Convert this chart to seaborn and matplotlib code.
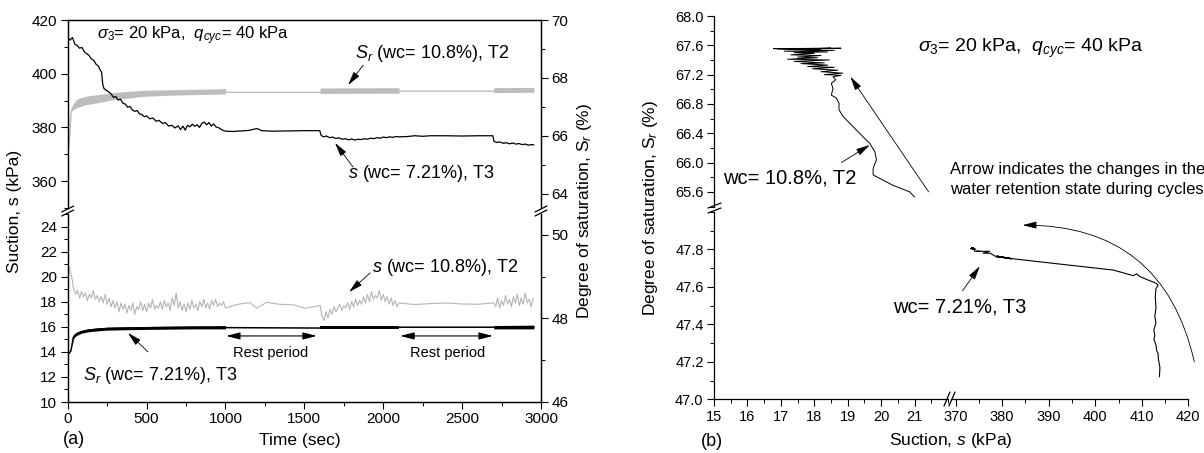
import numpy as np
import pandas as pd
import matplotlib
matplotlib.use("Agg")
import matplotlib.pyplot as plt
import seaborn as sns
from matplotlib.ticker import MultipleLocator, FormatStrFormatter
from matplotlib.lines import Line2D

# ---------------- data : panel (a) ----------------
# T3 suction (kPa), black, upper-left scale
t3s_t = [0, 15, 30, 45, 60, 75, 90, 105, 120, 135, 150, 165, 180, 195, 205, 215, 222, 230, 245, 260,
         275, 290, 305, 320, 335, 350, 365, 380, 395, 410, 425, 440, 455, 470, 485, 500, 520, 540, 560, 580,
         600, 620, 640, 660, 680, 700, 715, 730, 745, 760, 775, 790, 805, 820, 835, 850, 865, 880, 895, 910,
         925, 940, 960, 980, 1000,
         1050, 1100, 1150, 1200, 1230, 1300, 1400, 1500, 1598,
         1605, 1620, 1640, 1660, 1680, 1700, 1720, 1740, 1760, 1780, 1800, 1820, 1840, 1860, 1880, 1900,
         1920, 1940, 1960, 1980, 2000, 2020, 2040, 2060, 2080, 2100,
         2150, 2200, 2250, 2300, 2400, 2500, 2600, 2695,
         2702, 2720, 2740, 2760, 2780, 2800, 2820, 2840, 2860, 2880, 2900, 2920, 2940, 2955]
t3s_v = [413.5, 412.5, 413.5, 411.0, 410.5, 409.5, 409.8, 408.2, 407.5, 406.8, 405.5, 405.0, 403.5, 402.8, 401.5, 400.5, 396.0, 394.5, 393.8, 393.2,
         392.5, 391.2, 391.5, 390.2, 390.5, 389.0, 388.7, 387.5, 387.8, 386.5, 386.0, 386.3, 385.0, 384.8, 384.0, 384.3, 383.2, 383.5, 382.3, 382.6,
         381.5, 381.8, 380.5, 380.8, 379.8, 380.6, 379.2, 380.5, 379.0, 380.8, 380.2, 381.2, 380.4, 381.0, 380.0, 381.5, 382.0, 381.0, 381.8, 380.5,
         381.3, 380.2, 379.8, 379.0, 378.6,
         378.5, 378.7, 378.9, 379.6, 378.8, 378.6, 378.7, 378.8, 378.8,
         377.2, 376.5, 376.8, 376.2, 376.4, 375.9, 376.1, 375.6, 375.8, 375.4, 375.7, 375.3, 375.6, 375.5, 375.8, 375.6,
         376.0, 375.8, 376.2, 376.0, 376.4, 376.2, 376.5, 376.3, 376.6, 376.5,
         376.6, 376.9, 376.7, 376.9, 376.9, 376.8, 376.9, 376.9,
         374.8, 374.4, 374.6, 374.1, 374.3, 373.9, 374.2, 373.8, 374.0, 373.6, 373.8, 373.4, 373.6, 373.5]

# T2 degree of saturation (%), grey band, upper-right scale
sr2_t = [0, 8, 15, 22, 30, 45, 60, 90, 120, 160, 220, 270, 350, 480, 650, 880, 1000, 1600, 2100, 2700, 2955]
sr2_mid = [65.4, 65.7, 66.2, 66.82, 66.96, 67.05, 67.12, 67.18, 67.22, 67.26, 67.3, 67.35, 67.4, 67.46, 67.5, 67.52, 67.5, 67.5, 67.54, 67.54, 67.58]
sr2_c1_t = [22, 30, 45, 60, 90, 120, 160, 220, 270, 350, 480, 650, 880, 1000]
sr2_c1_hi = [66.85, 67.05, 67.18, 67.27, 67.33, 67.37, 67.40, 67.44, 67.48, 67.52, 67.57, 67.59, 67.61, 67.63]
sr2_c1_lo = [66.8, 66.88, 66.93, 66.97, 67.03, 67.08, 67.11, 67.17, 67.23, 67.28, 67.36, 67.40, 67.43, 67.44]
sr2_c2_t, sr2_c2_hi, sr2_c2_lo = [1600, 2100], [67.65, 67.66], [67.46, 67.47]
sr2_c3_t, sr2_c3_hi, sr2_c3_lo = [2700, 2955], [67.66, 67.67], [67.49, 67.50]

# T2 suction (kPa), grey noisy line, lower-left scale
t2s_t1 = np.arange(0, 1000.1, 12.5)
t2s_v1 = [21.1, 20.6, 20.0, 19.0, 18.6, 18.9, 18.3, 18.8, 18.4, 18.7, 18.1, 18.6, 18.3, 18.9, 18.2, 18.5, 18.0, 18.4, 17.9, 18.6,
          17.8, 18.3, 17.6, 18.1, 17.5, 18.0, 17.2, 17.9, 17.4, 17.8,
          17.1, 17.7, 17.3, 17.9, 17.0, 17.6, 17.4, 18.0, 17.3, 17.8,
          17.2, 17.9, 17.5, 18.2, 17.4, 17.7, 17.5, 18.0, 17.4, 18.1,
          17.6, 17.9, 17.3, 18.3, 17.7, 18.7, 17.5, 18.0, 17.3, 17.8,
          17.2, 17.9, 17.4, 18.1, 17.5, 17.8, 17.3, 18.0, 17.6, 18.2,
          17.5, 17.9, 17.4, 18.1, 17.7, 18.2, 17.6, 17.9, 17.7, 18.0, 17.5]
t2s_tr1 = [1080, 1156, 1199, 1262, 1340, 1431, 1505, 1590, 1600]
t2s_vr1 = [17.8, 17.93, 17.48, 17.96, 17.8, 17.75, 17.48, 17.67, 17.7]
t2s_t2 = np.arange(1612.5, 2100.1, 12.5)
t2s_v2 = [16.8, 16.5, 17.2, 16.7, 17.4, 17.0, 17.6, 17.2, 17.5, 17.8,
          17.3, 17.7, 17.5, 17.9, 17.4, 18.0, 17.6, 18.2, 17.7, 18.1,
          17.8, 18.4, 17.9, 18.6, 18.0, 18.8, 18.2, 18.5, 18.3, 18.9,
          18.1, 18.6, 18.0, 18.4, 17.8, 18.3, 17.7, 18.1, 17.6, 17.9]
t2s_tr2 = [2200, 2300, 2400, 2500, 2600, 2700]
t2s_vr2 = [17.78, 17.85, 17.9, 17.82, 17.8, 17.9]
t2s_t3 = np.arange(2712.5, 2950.1, 12.5)
t2s_v3 = [17.6, 18.3, 17.5, 18.1, 17.7, 18.5, 17.8, 18.2, 17.6, 18.4,
          17.9, 18.6, 17.7, 18.3, 17.8, 18.7, 17.9, 18.2, 17.6, 18.3]

# T3 degree of saturation (%), black band, lower-right scale
sr3_t = [0, 10, 20, 28, 35, 45, 60, 90, 130, 180, 250, 375, 550, 800, 1000, 1600, 2100, 2700, 2955]
sr3_mid = [47.13, 47.17, 47.22, 47.38, 47.54, 47.6, 47.64, 47.68, 47.72, 47.74, 47.76, 47.77, 47.78, 47.79, 47.78, 47.77, 47.79, 47.79, 47.79]
sr3_c1_t = [28, 35, 45, 60, 90, 130, 180, 250, 375, 550, 800, 1000]
sr3_c1_hi = [47.42, 47.58, 47.64, 47.68, 47.72, 47.75, 47.77, 47.79, 47.80, 47.81, 47.82, 47.83]
sr3_c1_lo = [47.35, 47.50, 47.56, 47.60, 47.65, 47.68, 47.70, 47.72, 47.73, 47.74, 47.75, 47.75]
sr3_c2_t, sr3_c2_hi, sr3_c2_lo = [1600, 2100], [47.83, 47.83], [47.75, 47.75]
sr3_c3_t, sr3_c3_hi, sr3_c3_lo = [2700, 2955], [47.83, 47.84], [47.75, 47.75]

# ---------------- data : panel (b) ----------------
wrc_t2_s = [21.0, 20.85, 20.35, 19.76, 19.76, 19.86, 19.81, 19.66, 19.46, 19.16, 18.86, 18.74, 18.74, 18.66, 18.51,
            18.56, 18.51, 18.64, 18.56,
            18.80, 18.30, 18.85, 18.20, 18.70, 17.95, 18.60, 17.80, 18.40, 17.60, 18.30, 17.40, 18.45, 17.20,
            18.10, 17.50, 18.20, 17.30, 18.00, 17.40, 18.40, 17.10, 18.60, 16.90, 18.80, 17.40, 18.20, 16.78,
            18.50, 17.60]
wrc_t2_sr = [65.53, 65.60, 65.69, 65.83, 65.92, 66.04, 66.15, 66.26, 66.35, 66.49, 66.63, 66.72, 66.81, 66.88, 66.92,
             67.01, 67.08, 67.13, 67.17,
             67.19, 67.20, 67.22, 67.24, 67.26, 67.28, 67.30, 67.31, 67.33, 67.35, 67.36, 67.38, 67.40, 67.41,
             67.43, 67.44, 67.46, 67.47, 67.49, 67.50, 67.51, 67.52, 67.53, 67.55, 67.56, 67.555, 67.55, 67.555,
             67.56, 67.55]
wrc_t3_s = [413.8, 413.9, 413.6, 413.5, 413.2, 413.05, 412.6, 412.8, 412.6, 413.05, 412.8, 413.05, 412.9, 413.05,
            413.5, 413.05, 411.05, 409.6, 408.9, 408.2, 403.9, 400.3, 396.7, 389.5, 386.0, 382.4, 378.8, 382.0,
            379.0, 381.5, 378.8, 377.4, 375.9, 377.3, 374.5, 375.2, 374.1, 373.8, 373.4, 374.3, 373.2, 374.1]
wrc_t3_sr = [47.12, 47.17, 47.21, 47.245, 47.26, 47.29, 47.32, 47.34, 47.37, 47.41, 47.44, 47.49, 47.55, 47.59,
             47.61, 47.62, 47.64, 47.655, 47.67, 47.66, 47.69, 47.70, 47.71, 47.73, 47.74, 47.75, 47.765, 47.75,
             47.76, 47.755, 47.76, 47.78, 47.78, 47.79, 47.79, 47.79, 47.79, 47.81, 47.81, 47.80, 47.805, 47.80]

# ---------------- style ----------------
sns.set_theme(style="ticks")
plt.rcParams["font.family"] = ["Liberation Sans", "DejaVu Sans"]
plt.rcParams.update({
    "mathtext.fontset": "custom", "mathtext.rm": "Liberation Sans",
    "mathtext.it": "Liberation Sans:italic", "mathtext.bf": "Liberation Sans:bold",
    "axes.linewidth": 0.9, "axes.edgecolor": "black", "text.color": "black",
    "axes.labelcolor": "black", "xtick.color": "black", "ytick.color": "black",
    "xtick.direction": "out", "ytick.direction": "out",
    "xtick.major.size": 5, "ytick.major.size": 5, "xtick.minor.size": 3, "ytick.minor.size": 3,
    "xtick.major.width": 0.8, "ytick.major.width": 0.8, "xtick.minor.width": 0.7, "ytick.minor.width": 0.7,
    "xtick.major.pad": 2.5, "ytick.major.pad": 2.5,
})

W, H = 1204, 453
fig = plt.figure(figsize=(W / 100, H / 100), dpi=100)


def rect(l, t, r, b):
    return [l / W, 1 - b / H, (r - l) / W, (b - t) / H]


def ftext(px, py, s, **kw):
    return fig.text(px / W, 1 - py / H, s, **kw)


def fline(x0, y0, x1, y1, lw=0.9):
    fig.add_artist(Line2D([x0 / W, x1 / W], [1 - y0 / H, 1 - y1 / H], transform=fig.transFigure,
                          color="black", lw=lw, clip_on=False))


ARW = dict(arrowstyle="-|>,head_length=0.7,head_width=0.18", color="black", lw=0.6, shrinkA=0, shrinkB=0)

# ================= panel (a) =================
axAt = fig.add_axes(rect(67.7, 20, 541, 208))
axAb = fig.add_axes(rect(67.7, 214, 541, 402))
axAtr = axAt.twinx()
axAbr = axAb.twinx()
axAt.set_zorder(axAtr.get_zorder() + 1)
axAt.patch.set_visible(False)

grey_band = "#bdbdbd"
sns.lineplot(x=sr2_t, y=sr2_mid, ax=axAtr, color=grey_band, lw=1.0, sort=False, estimator=None)
for tt, hi, lo in [(sr2_c1_t, sr2_c1_hi, sr2_c1_lo), (sr2_c2_t, sr2_c2_hi, sr2_c2_lo), (sr2_c3_t, sr2_c3_hi, sr2_c3_lo)]:
    axAtr.fill_between(tt, lo, hi, color=grey_band, lw=0)
sns.lineplot(x=t3s_t, y=t3s_v, ax=axAt, color="black", lw=0.9, sort=False, estimator=None)

t2s_t = np.concatenate([t2s_t1, t2s_tr1, t2s_t2, t2s_tr2, t2s_t3])
t2s_v = np.concatenate([t2s_v1, t2s_vr1, t2s_v2, t2s_vr2, t2s_v3])
sns.lineplot(x=t2s_t, y=t2s_v, ax=axAb, color="#b5b5b5", lw=0.8, sort=False, estimator=None)
sns.lineplot(x=sr3_t, y=sr3_mid, ax=axAbr, color="black", lw=1.1, sort=False, estimator=None)
for tt, hi, lo in [(sr3_c1_t, sr3_c1_hi, sr3_c1_lo), (sr3_c2_t, sr3_c2_hi, sr3_c2_lo), (sr3_c3_t, sr3_c3_hi, sr3_c3_lo)]:
    axAbr.fill_between(tt, lo, hi, color="black", lw=0)

for ax in (axAt, axAb):
    ax.set_xlim(0, 3000)
axAt.set_ylim(350, 420)
axAtr.set_ylim(63.5, 70)
axAb.set_ylim(10, 25)
axAbr.set_ylim(46, 50.5)

for ax in (axAt, axAtr):
    ax.spines["bottom"].set_visible(False)
    ax.tick_params(axis="x", which="both", bottom=False, labelbottom=False, top=False)
for ax in (axAb, axAbr):
    ax.spines["top"].set_visible(False)
    ax.tick_params(axis="x", which="both", top=False)
for ax in (axAt, axAtr, axAb, axAbr):
    ax.set_xlabel("")
    ax.set_ylabel("")
    ax.tick_params(labelsize=11)
    ax.spines["left"].set_visible(True)
    ax.spines["right"].set_visible(True)

axAb.xaxis.set_major_locator(MultipleLocator(500))
axAb.xaxis.set_minor_locator(MultipleLocator(250))
axAt.xaxis.set_major_locator(MultipleLocator(500))
axAt.yaxis.set_major_locator(MultipleLocator(20))
axAt.yaxis.set_minor_locator(MultipleLocator(10))
axAtr.yaxis.set_major_locator(MultipleLocator(2))
axAtr.yaxis.set_minor_locator(MultipleLocator(1))
axAb.yaxis.set_major_locator(MultipleLocator(2))
axAb.yaxis.set_minor_locator(MultipleLocator(1))
axAbr.yaxis.set_major_locator(MultipleLocator(2))
axAbr.yaxis.set_minor_locator(MultipleLocator(1))
axAt.set_yticks([360, 380, 400, 420])
axAtr.set_yticks([64, 66, 68, 70])
axAb.set_yticks(list(range(10, 25, 2)))
axAbr.set_yticks([46, 48, 50])

for xb in (67.7, 541):
    fline(xb - 6, 212, xb + 6, 206)
    fline(xb - 6, 216, xb + 6, 210)

ftext(97, 36, r"$\sigma_3$= 20 kPa,  $q_{cyc}$= 40 kPa", fontsize=12, va="center")
ftext(355, 53, r"$S_r$ (wc= 10.8%), T2", fontsize=13, va="center")
axAt.annotate("", xy=(1778, 395.8), xytext=(1873, 403.2), arrowprops=ARW, annotation_clip=False)
ftext(348, 173, r"$s$ (wc= 7.21%), T3", fontsize=13, va="center")
axAt.annotate("", xy=(1695, 374.2), xytext=(1809, 365.2), arrowprops=ARW, annotation_clip=False)
ftext(372, 268, r"$s$ (wc= 10.8%), T2", fontsize=13, va="center")
axAb.annotate("", xy=(1784, 18.78), xytext=(1917, 20.3), arrowprops=ARW, annotation_clip=False)
ftext(83, 376, r"$S_r$ (wc= 7.21%), T3", fontsize=13, va="center")
axAb.annotate("", xy=(382, 15.51), xytext=(509, 14.0), arrowprops=ARW, annotation_clip=False)
DBL = dict(arrowstyle="<|-|>,head_length=0.7,head_width=0.18", color="black", lw=0.8, shrinkA=0, shrinkB=0)
axAb.annotate("", xy=(1004, 15.27), xytext=(1579, 15.27), arrowprops=DBL)
axAb.annotate("", xy=(2108, 15.27), xytext=(2695, 15.27), arrowprops=DBL)
axAb.text(1288, 13.89, "Rest period", fontsize=10.5, ha="center", va="center")
axAb.text(2409, 13.89, "Rest period", fontsize=10.5, ha="center", va="center")

ftext(74, 440, "(a)", fontsize=13, ha="center", va="center")
ftext(300, 440, "Time (sec)", fontsize=12.5, ha="center", va="center")
ftext(15, 211, "Suction, s (kPa)", fontsize=12.5, rotation=90, ha="center", va="center")
ftext(585, 211, r"Degree of saturation, S$_r$ (%)", fontsize=12.5, rotation=90, ha="center", va="center")

# ================= panel (b) =================
bLt = fig.add_axes(rect(714, 16, 948, 206.5))
bLb = fig.add_axes(rect(714, 212, 948, 399.3))
bRb = fig.add_axes(rect(951, 212, 1188.3, 399.3))
for ax in (bLt, bLb, bRb):
    ax.patch.set_visible(False)
    ax.spines["top"].set_visible(False)
    ax.spines["right"].set_visible(False)
    ax.tick_params(labelsize=10.5)

sns.lineplot(x=wrc_t2_s, y=wrc_t2_sr, ax=bLt, color="black", lw=0.7, sort=False, estimator=None)
sns.lineplot(x=wrc_t3_s, y=wrc_t3_sr, ax=bRb, color="black", lw=0.8, sort=False, estimator=None)

bLt.set_xlim(15, 22)
bLb.set_xlim(15, 22)
bRb.set_xlim(369, 420)
bLt.set_ylim(65.4, 68.0)
bLb.set_ylim(47.0, 48.0)
bRb.set_ylim(47.0, 48.0)

bLt.spines["bottom"].set_visible(False)
bLt.tick_params(axis="x", which="both", bottom=False, labelbottom=False)
bRb.spines["left"].set_visible(False)
bRb.tick_params(axis="y", which="both", left=False, labelleft=False)
for ax in (bLt, bLb, bRb):
    ax.set_xlabel("")
    ax.set_ylabel("")

bLt.yaxis.set_minor_locator(MultipleLocator(0.2))
bLt.set_yticks([65.6, 66.0, 66.4, 66.8, 67.2, 67.6, 68.0])
bLt.yaxis.set_major_formatter(FormatStrFormatter("%.1f"))
bLb.yaxis.set_minor_locator(MultipleLocator(0.1))
bLb.set_yticks([47.0, 47.2, 47.4, 47.6, 47.8])
bLb.yaxis.set_major_formatter(FormatStrFormatter("%.1f"))
bLb.xaxis.set_minor_locator(MultipleLocator(0.5))
bLb.set_xticks([15, 16, 17, 18, 19, 20, 21])
bRb.set_xticks([370, 380, 390, 400, 410, 420])
bRb.xaxis.set_minor_locator(MultipleLocator(5))

fline(708, 208, 721, 203)
fline(708, 213, 721, 208)
fline(944, 406, 950, 392)
fline(949, 406, 955, 392)

bLt.annotate("", xy=(19.08, 67.17), xytext=(21.42, 65.6), arrowprops=ARW, annotation_clip=False)
bLt.annotate("", xy=(19.66, 66.24), xytext=(18.81, 66.0), arrowprops=ARW, annotation_clip=False)
bRb.annotate("", xy=(375.2, 47.71), xytext=(371.5, 47.58), arrowprops=ARW, annotation_clip=False)
bRb.annotate("", xy=(384.4, 47.93), xytext=(421.3, 47.2), annotation_clip=False,
             arrowprops=dict(ARW, connectionstyle="arc3,rad=0.4"))

ftext(918, 48, r"$\sigma_3$= 20 kPa,  $q_{cyc}$= 40 kPa", fontsize=14, va="center")
ftext(950, 174, "Arrow indicates the changes in the", fontsize=12, va="baseline")
ftext(950, 194.3, "water retention state during cycles", fontsize=12, va="baseline")
ftext(723, 183.3, "wc= 10.8%, T2", fontsize=14.5, va="baseline")
ftext(893, 312.7, "wc= 7.21%, T3", fontsize=14.5, va="baseline")
ftext(712, 441, "(b)", fontsize=13, ha="center", va="center")
ftext(951, 441, r"Suction, $s$ (kPa)", fontsize=12.5, ha="center", va="center")
ftext(650, 208, r"Degree of saturation, S$_r$ (%)", fontsize=12.5, rotation=90, ha="center", va="center")

fig.savefig("out.png", dpi=100)
